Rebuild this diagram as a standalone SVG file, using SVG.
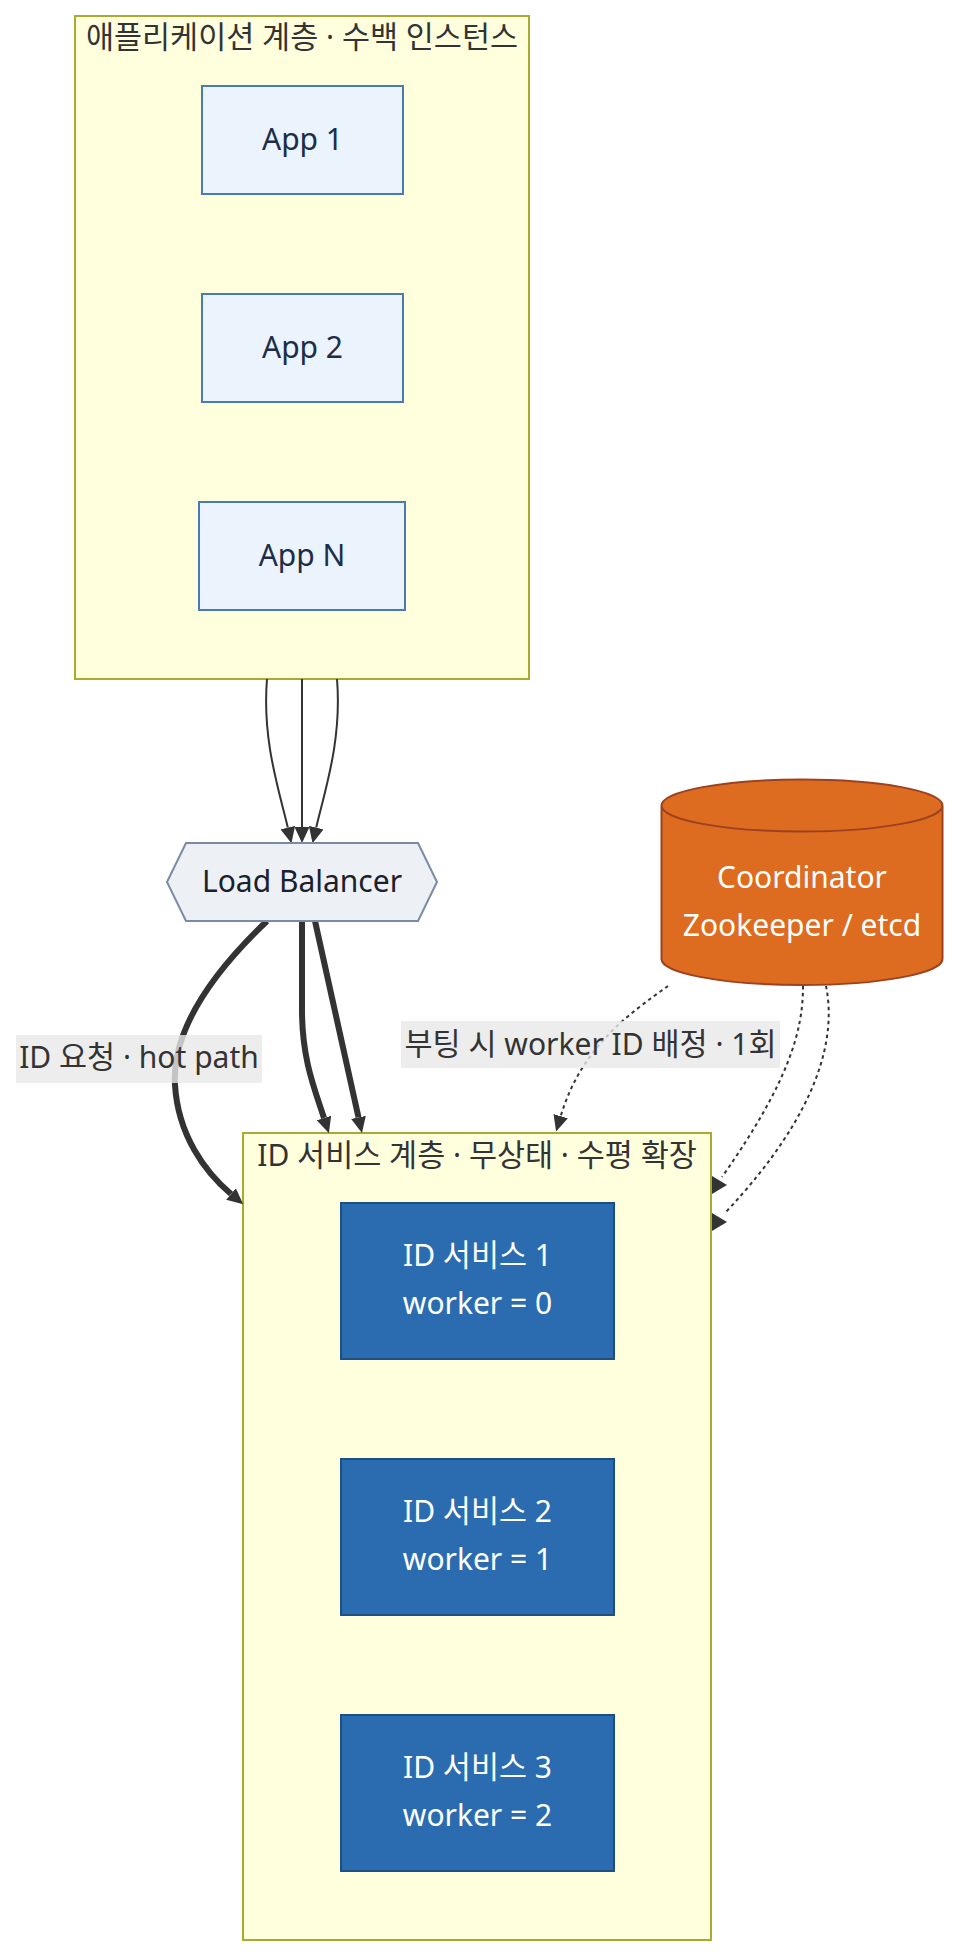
<svg xmlns="http://www.w3.org/2000/svg" width="959" height="1957" viewBox="0 0 959 1957">
<style>
text{font-family:"Noto Sans","Noto Sans CJK KR",sans-serif;font-size:30px;text-anchor:middle}
.k{font-family:"Noto Sans CJK KR","Noto Sans",sans-serif;font-size:30.5px}
.cluster{fill:#ffffde;stroke:#aaaa33;stroke-width:2}
.ct{fill:#333}
.app rect{fill:#ebf3fc;stroke:#4a79b6;stroke-width:2}
.app text{fill:#1c2d48}
.svc rect{fill:#2b6cb0;stroke:#1d4f80;stroke-width:2}
.svc text{fill:#fff}
.e{fill:none;stroke:#333}
.thin{stroke-width:2}
.thick{stroke-width:6}
.dot{stroke-width:2;stroke-dasharray:3.5 3.5}
.lbl rect{fill:#e8e8e8;opacity:0.8}
.lbl text{fill:#333}
</style>
<defs>
<marker id="ah" viewBox="0 0 16 15" refX="0" refY="7.5" markerWidth="16" markerHeight="15" markerUnits="userSpaceOnUse" orient="auto">
<path d="M0,0 L16,7.5 L0,15 z" fill="#333"/>
</marker>
</defs>

<g id="cluster-app">
<rect class="cluster" x="75" y="16" width="454" height="663"/>
<text class="ct" x="302" y="48"><tspan class="k">애플리케이션</tspan> <tspan class="k">계층</tspan> · <tspan class="k">수백</tspan> <tspan class="k">인스턴스</tspan></text>
</g>
<g id="cluster-id">
<rect class="cluster" x="243" y="1133" width="468" height="807"/>
<text class="ct" x="477" y="1166">ID <tspan class="k">서비스</tspan> <tspan class="k">계층</tspan> · <tspan class="k">무상태</tspan> · <tspan class="k">수평</tspan> <tspan class="k">확장</tspan></text>
</g>

<g id="edges">
<path class="e thin" d="M267,679 C262,740 279,790 287.8,827.6" marker-end="url(#ah)"/>
<path class="e thin" d="M302,679 L302,827" marker-end="url(#ah)"/>
<path class="e thin" d="M337,679 C342,740 325,790 316.2,827.6" marker-end="url(#ah)"/>
<path class="e thick" d="M267,921 C205,980 172,1035 175,1085 C178,1135 205,1172 231,1194" marker-end="url(#ah)"/>
<path class="e thick" d="M302,921 L302,1010 C302,1060 315,1090 324,1118" marker-end="url(#ah)"/>
<path class="e thick" d="M315,921 L358.5,1117.4" marker-end="url(#ah)"/>
<path class="e dot" d="M668,986 C632,1012 582,1045 560.7,1116.2" marker-end="url(#ah)"/>
<path class="e dot" d="M803,986 C803,1030 790,1080 722,1177"/>
<path class="e dot" d="M826,986 C836,1035 822,1110 725,1213"/>
<polygon points="712,1176 727,1185 712,1194" fill="#333"/>
<polygon points="712,1213 727,1222 712,1231" fill="#333"/>
</g>

<g id="app1" class="app">
<rect x="202" y="86" width="201" height="108"/>
<text x="302.5" y="150">App 1</text>
</g>
<g id="app2" class="app">
<rect x="202" y="294" width="201" height="108"/>
<text x="302.5" y="358">App 2</text>
</g>
<g id="appN" class="app">
<rect x="199" y="502" width="206" height="108"/>
<text x="302" y="566">App N</text>
</g>

<g id="lb">
<polygon points="167,882 186,843 418,843 437,882 418,921 186,921" fill="#edf1f6" stroke="#7a8ba5" stroke-width="2"/>
<text x="302" y="892" fill="#1a202c">Load Balancer</text>
</g>

<g id="coord">
<path d="M661.5,805.5 a140.5,26 0 0 0 281,0 a140.5,26 0 0 0 -281,0 l0,153.5 a140.5,26 0 0 0 281,0 l0,-153.5" fill="#dd6b20" stroke="#9c4221" stroke-width="2"/>
<text x="802" y="888" fill="#fff">Coordinator</text>
<text x="802" y="936" fill="#fff">Zookeeper / etcd</text>
</g>

<g id="svc1" class="svc">
<rect x="341" y="1203" width="273" height="156"/>
<text x="477.5" y="1266">ID <tspan class="k">서비스</tspan> 1</text>
<text x="477.5" y="1314">worker = 0</text>
</g>
<g id="svc2" class="svc">
<rect x="341" y="1459" width="273" height="156"/>
<text x="477.5" y="1522">ID <tspan class="k">서비스</tspan> 2</text>
<text x="477.5" y="1570">worker = 1</text>
</g>
<g id="svc3" class="svc">
<rect x="341" y="1715" width="273" height="156"/>
<text x="477.5" y="1778">ID <tspan class="k">서비스</tspan> 3</text>
<text x="477.5" y="1826">worker = 2</text>
</g>

<g id="label-hot" class="lbl">
<rect x="16" y="1035" width="246" height="48"/>
<text x="139" y="1068">ID <tspan class="k">요청</tspan> · hot path</text>
</g>
<g id="label-boot" class="lbl">
<rect x="401" y="1021" width="379" height="47"/>
<text x="590.5" y="1055"><tspan class="k">부팅</tspan> <tspan class="k">시</tspan> worker ID <tspan class="k">배정</tspan> · 1<tspan class="k">회</tspan></text>
</g>
</svg>
